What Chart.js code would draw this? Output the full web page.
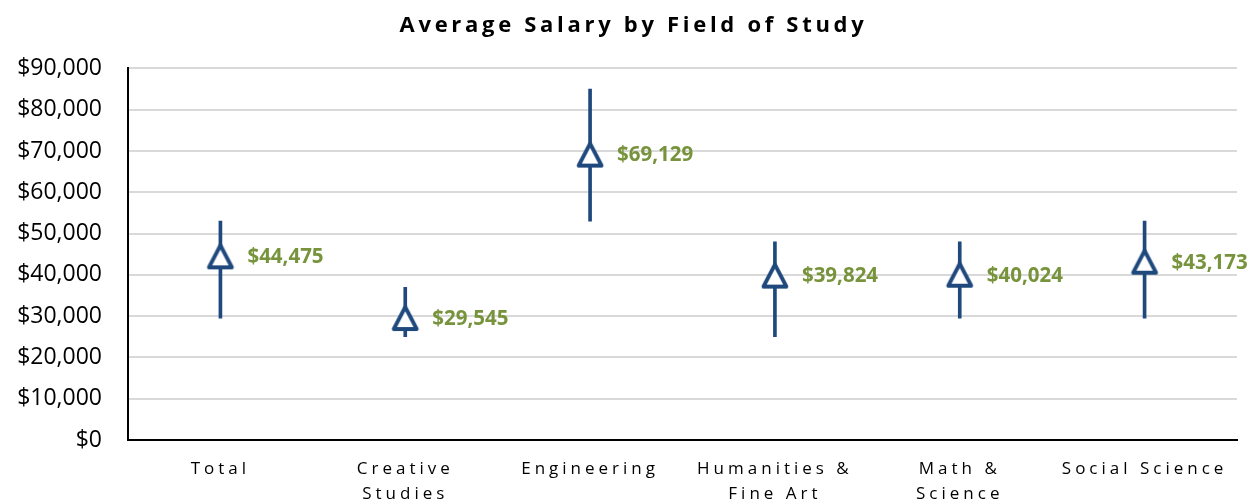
<!DOCTYPE html>
<html>
<head>
<meta charset="utf-8">
<script src="https://cdn.jsdelivr.net/npm/chart.js@4.4.1/dist/chart.umd.min.js"></script>
<style>
  body { margin: 0; background: #fff; }
</style>
</head>
<body>
<canvas id="graficoSalariosCanvas" width="1251" height="502"></canvas>
<script>
const categorias = [['Total'], ['Creative', 'Studies'], ['Engineering'], ['Humanities &', 'Fine Art'], ['Math &', 'Science'], ['Social Science']]
const salarioMedio = [44475, 29545, 69129, 39824, 40024, 43173]
const salarioMin = [29500, 25000, 53000, 25000, 29500, 29500]
const salarioMax = [53000, 37000, 85000, 48000, 48000, 53000]
const ticksY = [0, 10000, 20000, 30000, 40000, 50000, 60000, 70000, 80000, 90000]

const azul = '#1F497D'
const verde = '#77933C'
const fonte = '"Open Sans", "Liberation Sans", sans-serif'

function formatarDolar(v) {
    return '$' + v.toLocaleString('en-US')
}

// marcador triangular centrado no valor (o 'triangle' do Chart.js fica deslocado)
function criarTriangulo() {
    const c = document.createElement('canvas')
    c.width = 30
    c.height = 30
    const ctx = c.getContext('2d')
    ctx.beginPath()
    ctx.moveTo(15, 4)
    ctx.lineTo(26.5, 26)
    ctx.lineTo(3.5, 26)
    ctx.closePath()
    ctx.fillStyle = '#fff'
    ctx.fill()
    ctx.lineWidth = 3.8
    ctx.lineJoin = 'round'
    ctx.strokeStyle = azul
    ctx.stroke()
    return c
}

const espacamento = {
    id: 'espacamento',
    afterLayout(chart) {
        const x = chart.scales.x
        if (!x._espacado) {
            const orig = x.drawLabels
            x.drawLabels = function (area) {
                this.ctx.save()
                this.ctx.letterSpacing = '4px'
                orig.call(this, area)
                this.ctx.restore()
            }
            x._espacado = true
        }
        const t = chart.titleBlock
        if (t && !t._espacado) {
            const origT = t.draw
            t.draw = function () {
                this.ctx.save()
                this.ctx.letterSpacing = '3.7px'
                this.ctx.translate(15, 0)
                origT.apply(this, arguments)
                this.ctx.restore()
            }
            t._espacado = true
        }
    }
}

const rotulosValores = {
    id: 'rotulosValores',
    afterDatasetsDraw(chart) {
        const ctx = chart.ctx
        const meta = chart.getDatasetMeta(1)
        ctx.save()
        ctx.font = 'bold 20.5px ' + fonte
        ctx.fillStyle = verde
        ctx.textAlign = 'left'
        ctx.textBaseline = 'middle'
        meta.data.forEach((ponto, i) => {
            ctx.fillText(formatarDolar(salarioMedio[i]), ponto.x + 27, ponto.y + 1)
        })
        ctx.restore()
    }
}

const data = {
    labels: categorias,
    datasets: [{
        type: 'bar',
        label: 'Range',
        data: salarioMin.map((v, i) => [v, salarioMax[i]]),
        backgroundColor: azul,
        barThickness: 3,
        order: 1
    }, {
        type: 'line',
        label: 'Average',
        data: salarioMedio,
        showLine: false,
        pointStyle: criarTriangulo(),
        order: 0
    }]
}

window.graficoSalarios = new Chart(document.getElementById('graficoSalariosCanvas'), {
    type: 'bar',
    data: data,
    options: {
        responsive: false,
        animation: false,
        events: [],
        layout: {
            padding: { top: 0, right: 14, bottom: 0, left: 0 }
        },
        plugins: {
            legend: { display: false },
            tooltip: { enabled: false },
            title: {
                display: true,
                text: 'Average Salary by Field of Study',
                color: '#000',
                font: { family: fonte, size: 22, weight: 'bold', lineHeight: 1.2 },
                padding: { top: 13, bottom: 29 }
            }
        },
        scales: {
            x: {
                grid: { display: false, drawTicks: false },
                border: { color: '#000', width: 2 },
                ticks: {
                    color: '#000',
                    maxRotation: 0,
                    autoSkip: false,
                    padding: 16,
                    font: { family: fonte, size: 17, lineHeight: 1.5 }
                },
                afterFit(scale) { scale.height = 62 }
            },
            y: {
                min: 0,
                max: 90000,
                afterBuildTicks(scale) { scale.ticks = ticksY.map(v => ({ value: v })) },
                afterFit(scale) { scale.width = 128 },
                grid: { color: '#d9d9d9', lineWidth: 2, drawTicks: false },
                border: { color: '#000', width: 2 },
                ticks: {
                    color: '#000',
                    padding: 26,
                    font: { family: fonte, size: 23 },
                    callback: v => formatarDolar(v)
                }
            }
        }
    },
    plugins: [espacamento, rotulosValores]
})
</script>
</body>
</html>
